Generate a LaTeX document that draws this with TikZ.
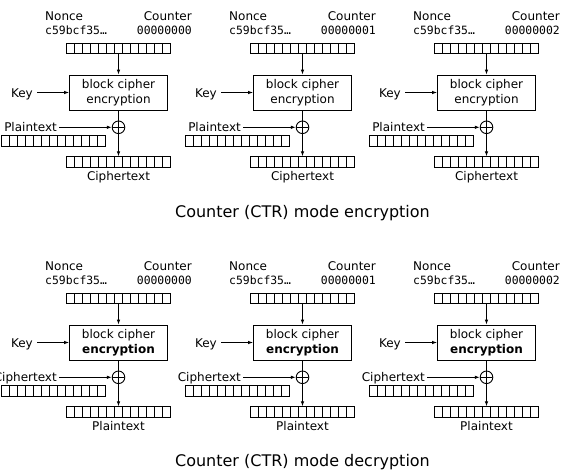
\documentclass[tikz,border=0pt]{standalone}
\usepackage{fontspec}
\setmainfont{DejaVu Sans}
\setmonofont{DejaVu Sans Mono}
\usetikzlibrary{arrows.meta,calc}

\begin{document}
\begin{tikzpicture}[x=1pt,y=-1pt,
  lbl/.style={font=\fontsize{12}{14}\selectfont, inner sep=0pt},
  hex/.style={font=\fontsize{11.4}{13}\selectfont\ttfamily, inner sep=0pt},
  heading/.style={font=\fontsize{16}{19}\selectfont, inner sep=0pt},
  register/.style={draw, line width=0.9pt, minimum width=104pt, minimum height=10.5pt,
    inner sep=0pt, path picture={
      \foreach \k in {1,...,12}{
        \draw[line width=0.9pt]
          ($(path picture bounding box.south west)!\k/13!(path picture bounding box.south east)$) --
          ($(path picture bounding box.north west)!\k/13!(path picture bounding box.north east)$);
      }}},
  cipherbox/.style={draw, line width=0.9pt, minimum width=98pt, minimum height=35pt,
    inner sep=0pt, align=center, font=\fontsize{12}{14.5}\selectfont},
  xor/.style={draw, circle, line width=0.9pt, minimum size=12.6pt, inner sep=0pt,
    path picture={\draw[line width=0.9pt]
      (path picture bounding box.north) -- (path picture bounding box.south)
      (path picture bounding box.west) -- (path picture bounding box.east);}},
  flow/.style={line width=0.9pt, -{Latex[length=5pt,width=3.6pt]}},
  plain/.style={line width=0.9pt},
]
\useasboundingbox (0,0) rectangle (561,469);

\foreach \r/\inp/\outp/\fnt in {0/Plaintext/Ciphertext/\mdseries, 1/Ciphertext/Plaintext/\bfseries}{
  \foreach \c/\cnt in {0/00000000, 1/00000001, 2/00000002}{
    \begin{scope}[shift={(184*\c,250*\r)}]
      % counter block: nonce and counter value
      \node[lbl, anchor=base west] (nonce\r\c) at (45,20) {Nonce};
      \node[lbl, anchor=base east] (ctr\r\c) at (192,20) {Counter};
      \node[hex, anchor=base west] (nval\r\c) at (45,34) {c59bcf35…};
      \node[hex, anchor=base east] (cval\r\c) at (192,34) {\cnt};
      \node[register] (in\r\c) at (118.5,48.5) {};
      % block cipher
      \node[cipherbox] (bc\r\c) at (118.5,92.5) {block cipher\\{\fnt encryption}};
      \node[lbl, anchor=base east] (key\r\c) at (33,97) {Key};
      % xor with the data block
      \node[xor] (x\r\c) at (118.5,127.3) {};
      \node[lbl, anchor=base east] (dl\r\c) at (57,131) {\inp};
      \node[register] (dr\r\c) at (53,141) {};
      \node[register] (out\r\c) at (118.5,162) {};
      \node[lbl, anchor=base] (ol\r\c) at (118.5,180.5) {\outp};
      % connectors
      \draw[flow] (in\r\c) -- (bc\r\c);
      \draw[flow, shorten <=4pt] (key\r\c.east |- bc\r\c.west) -- (bc\r\c.west);
      \draw[plain] (bc\r\c) -- (x\r\c);
      \draw[flow, shorten <=2pt] (dl\r\c.east |- x\r\c.west) -- (x\r\c.west);
      \draw[flow] (x\r\c) -- (out\r\c);
    \end{scope}
  }
}

\node[heading, anchor=base] (enc) at (302.5,217) {Counter (CTR) mode encryption};
\node[heading, anchor=base] (dec) at (302.5,466) {Counter (CTR) mode decryption};
\end{tikzpicture}
\end{document}
